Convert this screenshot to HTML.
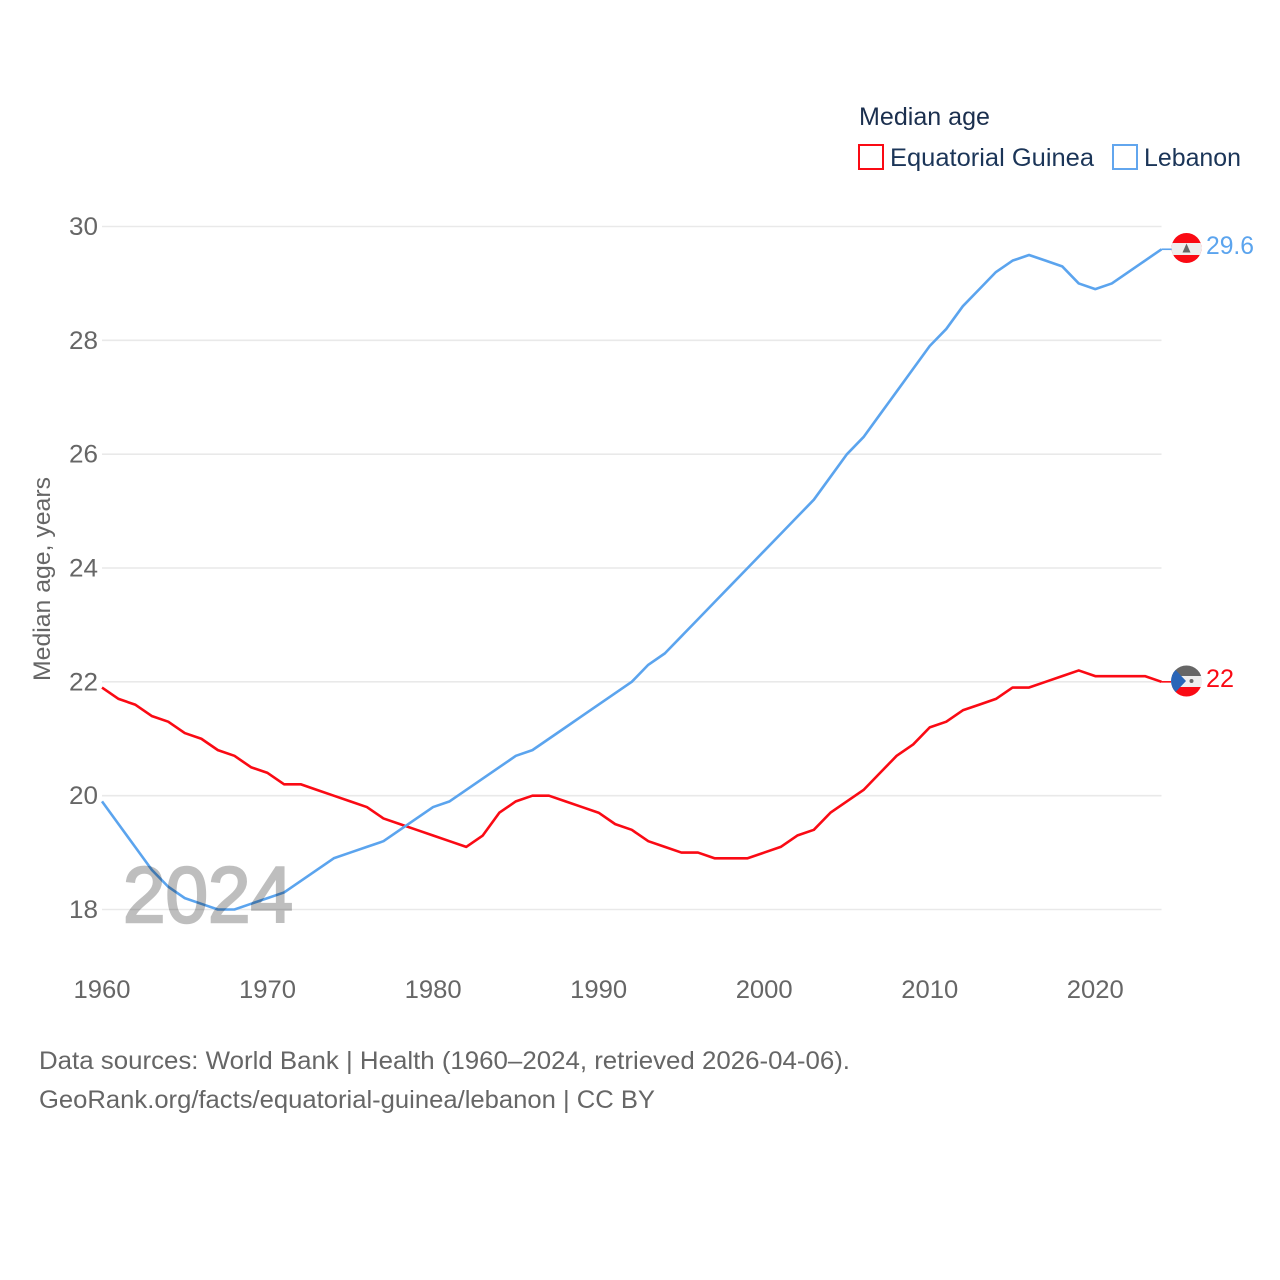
<!DOCTYPE html>
<html>
<head>
<meta charset="utf-8">
<style>
html,body{margin:0;padding:0;background:#fff;}
svg{display:block;}
text{font-family:"Liberation Sans",sans-serif;}
</style>
</head>
<body>
<svg id="chart" width="1280" height="1280" viewBox="0 0 1280 1280" xmlns="http://www.w3.org/2000/svg">
  <rect x="0" y="0" width="1280" height="1280" fill="#fff"/>
  <defs>
    <clipPath id="clip-lb"><circle cx="1186.5" cy="248" r="15"/></clipPath>
    <clipPath id="clip-gq"><circle cx="1186.5" cy="681" r="15.5"/></clipPath>
  </defs>
  <g id="grid"></g>
  <g id="yticks"></g>
  <g id="xticks"></g>
  <text transform="translate(50,579) rotate(-90)" text-anchor="middle" font-size="24" fill="#666" textLength="204" lengthAdjust="spacingAndGlyphs">Median age, years</text>
  <g id="series"></g>
  <text x="123" y="922" font-size="79" fill="#000" stroke="#000" stroke-width="2.4" opacity="0.25" textLength="170" lengthAdjust="spacingAndGlyphs">2024</text>

  <g>
    <text x="859" y="125" font-size="25" fill="#1b2f4e" textLength="131" lengthAdjust="spacingAndGlyphs">Median age</text>
    <rect x="859" y="145" width="24" height="24" fill="#fff" stroke="#fa0a14" stroke-width="2"/>
    <text x="890" y="166" font-size="25" fill="#1b3558" textLength="204" lengthAdjust="spacingAndGlyphs">Equatorial Guinea</text>
    <rect x="1113" y="145" width="24" height="24" fill="#fff" stroke="#62a6ee" stroke-width="2"/>
    <text x="1144" y="166" font-size="25" fill="#1b3558" textLength="97" lengthAdjust="spacingAndGlyphs">Lebanon</text>
  </g>

  <g clip-path="url(#clip-lb)">
    <rect x="1170" y="232" width="34" height="32" fill="#fa0a14"/>
    <rect x="1170" y="243" width="34" height="12" fill="#eee"/>
    <polygon points="1186.5,243.5 1190.5,252.5 1182.5,252.5" fill="#666"/>
  </g>
  <g clip-path="url(#clip-gq)">
    <rect x="1170" y="665" width="34" height="11" fill="#666"/>
    <rect x="1170" y="676" width="34" height="11" fill="#eee"/>
    <rect x="1170" y="687" width="34" height="11" fill="#fa0a14"/>
    <polygon points="1170,664 1186,681 1170,698" fill="#2a66b8"/>
    <circle cx="1191.5" cy="681" r="2" fill="#666"/>
  </g>

  <text x="1206" y="254" font-size="25" fill="#5ba4ee" textLength="48" lengthAdjust="spacingAndGlyphs">29.6</text>
  <text x="1206" y="687" font-size="25" fill="#fa0a14" textLength="28" lengthAdjust="spacingAndGlyphs">22</text>

  <text x="39" y="1069" font-size="25" fill="#666" textLength="811" lengthAdjust="spacingAndGlyphs">Data sources: World Bank | Health (1960–2024, retrieved 2026-04-06).</text>
  <text x="39" y="1108" font-size="25" fill="#666" textLength="616" lengthAdjust="spacingAndGlyphs">GeoRank.org/facts/equatorial-guinea/lebanon | CC BY</text>
</svg>
<script>
const startYear = 1960;
const endYear = 2024;
const yTickValues = [18, 20, 22, 24, 26, 28, 30];
const xTickValues = [1960, 1970, 1980, 1990, 2000, 2010, 2020];
const lebanonValues = [19.9,19.5,19.1,18.7,18.4,18.2,18.1,18.0,18.0,18.1,18.2,18.3,18.5,18.7,18.9,19.0,19.1,19.2,19.4,19.6,19.8,19.9,20.1,20.3,20.5,20.7,20.8,21.0,21.2,21.4,21.6,21.8,22.0,22.3,22.5,22.8,23.1,23.4,23.7,24.0,24.3,24.6,24.9,25.2,25.6,26.0,26.3,26.7,27.1,27.5,27.9,28.2,28.6,28.9,29.2,29.4,29.5,29.4,29.3,29.0,28.9,29.0,29.2,29.4,29.6];
const equatorialGuineaValues = [21.9,21.7,21.6,21.4,21.3,21.1,21.0,20.8,20.7,20.5,20.4,20.2,20.2,20.1,20.0,19.9,19.8,19.6,19.5,19.4,19.3,19.2,19.1,19.3,19.7,19.9,20.0,20.0,19.9,19.8,19.7,19.5,19.4,19.2,19.1,19.0,19.0,18.9,18.9,18.9,19.0,19.1,19.3,19.4,19.7,19.9,20.1,20.4,20.7,20.9,21.2,21.3,21.5,21.6,21.7,21.9,21.9,22.0,22.1,22.2,22.1,22.1,22.1,22.1,22.0];

const NS = 'http://www.w3.org/2000/svg';
const xLeft = 102, xRight = 1161.5, yTop = 226.5, yBottom = 909.5;
function xScale(year) { return xLeft + (year - startYear) / (endYear - startYear) * (xRight - xLeft); }
function yScale(v) { return yBottom - (v - 18) / (30 - 18) * (yBottom - yTop); }
function make(tag, attrs) {
  const el = document.createElementNS(NS, tag);
  for (const k in attrs) el.setAttribute(k, attrs[k]);
  return el;
}

const grid = document.getElementById('grid');
const yticks = document.getElementById('yticks');
const xticks = document.getElementById('xticks');
const series = document.getElementById('series');

yTickValues.forEach(function (v) {
  const line = make('line', { x1: xLeft, x2: xRight, y1: yScale(v), y2: yScale(v), stroke: '#e9e9e9', 'stroke-width': 1.6 });
  
  
  grid.appendChild(line);
  const label = make('text', { x: 98, y: yScale(v) + 8.5, 'text-anchor': 'end', 'font-size': 25, fill: '#666', textLength: 29, lengthAdjust: 'spacingAndGlyphs' });
  
  
  label.textContent = String(v);
  yticks.appendChild(label);
});

xTickValues.forEach(function (year) {
  const label = make('text', { x: xScale(year), y: 998, 'text-anchor': 'middle', 'font-size': 25, fill: '#666', textLength: 57, lengthAdjust: 'spacingAndGlyphs' });
  
  
  label.textContent = String(year);
  xticks.appendChild(label);
});

function drawSeries(values, color, name) {
  const pts = values.map(function (v, i) { return xScale(startYear + i).toFixed(2) + ',' + yScale(v).toFixed(2); });
  const poly = make('polyline', { points: pts.join(' '), fill: 'none', stroke: color, 'stroke-width': 2.6, 'stroke-linejoin': 'round' });
  
  
  series.appendChild(poly);
  const lastY = yScale(values[values.length - 1]);
  const conn = make('line', { x1: xRight, x2: 1172, y1: lastY, y2: lastY, stroke: color, 'stroke-width': 1.6 });
  
  
  series.appendChild(conn);
}
drawSeries(equatorialGuineaValues, '#fa0a14', 'equatorial-guinea-line');
drawSeries(lebanonValues, '#5ba4ee', 'lebanon-line');
</script>
</body>
</html>
